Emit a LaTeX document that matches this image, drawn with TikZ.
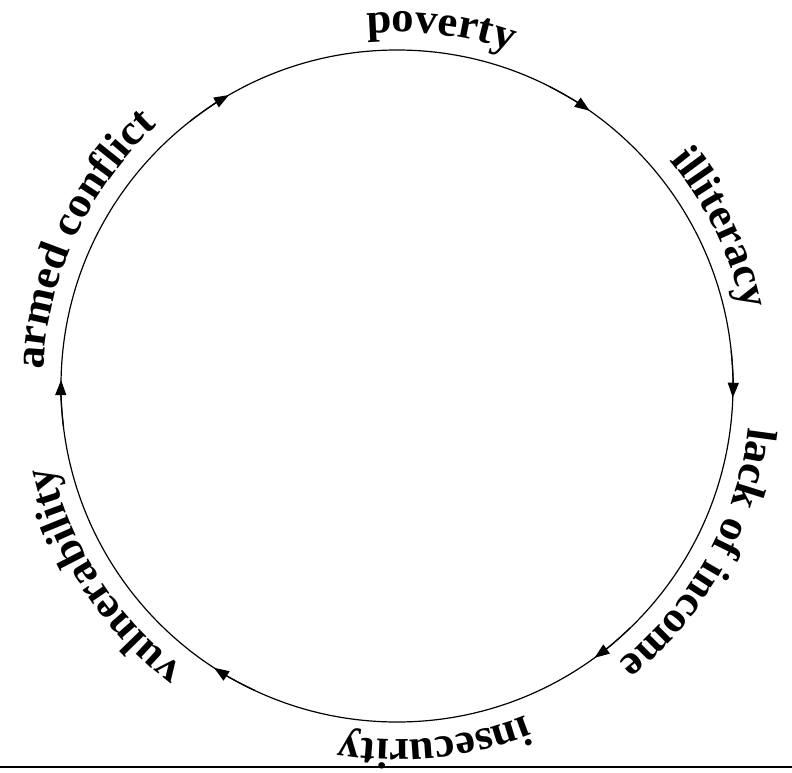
\documentclass[tikz,border=0pt]{standalone}
\usepackage{fontspec}
\setmainfont[FakeStretch=1.04]{Liberation Serif}
\usetikzlibrary{arrows.meta,decorations.text}

\newcommand{\labelfont}{\fontsize{43}{50}\selectfont\bfseries}

\begin{document}
\begin{tikzpicture}[x=1pt, y=1pt,
		cycleline/.style={line width=1.2pt},
		cyclearrow/.style={line width=1.2pt, -{Triangle[length=15pt, width=11pt]}},
		curvedlabel/.style={decorate, decoration={text along path, text align=center, text={|\labelfont|#1}}}]
		\useasboundingbox (-397, -386) rectangle (395, 386);
		
		% The cycle
		\draw[cycleline] (0, 0) circle[radius=336];
		
		% Arrows along the cycle (clockwise)
		\foreach \tip in {55, -2, -54, -123, 179, 120} {
			\draw[cyclearrow] (\tip+8:336) arc[start angle=\tip+8, end angle=\tip, radius=336];
		}
		
		% Labels written along the outside of the circle
		\path[curvedlabel={poverty}] (113:354) arc[start angle=113, end angle=53, radius=354];
		\path[curvedlabel={illiteracy}] (56:354) arc[start angle=56, end angle=-4, radius=354];
		\path[curvedlabel={lack of income}] (1:354) arc[start angle=1, end angle=-59, radius=354];
		\path[curvedlabel={insecurity}] (-54:354) arc[start angle=-54, end angle=-114, radius=354];
		\path[curvedlabel={vulnerability}] (-117:354) arc[start angle=-117, end angle=-177, radius=354];
		\path[curvedlabel={armed conflict}] (185:354) arc[start angle=185, end angle=125, radius=354];
		
		% Rule at the bottom
		\draw[line width=1.8pt] (-397, -381) -- (395, -381);
	\end{tikzpicture}
\end{document}
